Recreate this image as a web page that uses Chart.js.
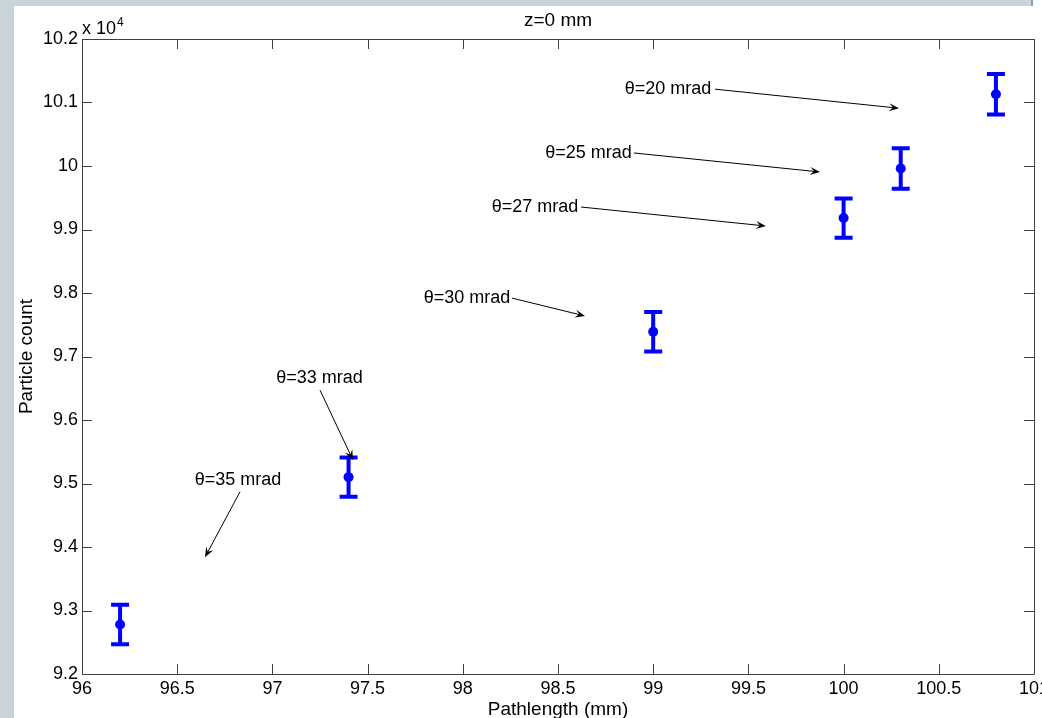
<!DOCTYPE html>
<html>
<head>
<meta charset="utf-8">
<script src="https://cdn.jsdelivr.net/npm/chart.js@4"></script>
<style>
  html, body { margin: 0; padding: 0; background: #ffffff; }
  canvas { display: block; }
</style>
</head>
<body>
<canvas id="c" width="1042" height="718"></canvas>
<script>
// ---- data ----
const pathlength = [96.2, 97.4, 99.0, 100.0, 100.3, 100.8];           // mm
const particleCount = [92780, 95100, 97390, 99180, 99960, 101130];    // counts
const countError = [310, 310, 310, 310, 320, 320];                    // +/- counts

const xTickStep = 0.5;
const yTickStep = 1000;

const annLabels = ['θ=20 mrad', 'θ=25 mrad', 'θ=27 mrad', 'θ=30 mrad', 'θ=33 mrad', 'θ=35 mrad'];
const annTextX = [99.078, 98.660, 98.379, 98.022, 97.247, 96.819];
const annTextY = [101210, 100205, 99350, 97920, 96660, 95055];
const annTailX = [99.325, 98.899, 98.621, 98.258, 97.250, 96.830];
const annTailY = [101210, 100205, 99354, 97920, 96470, 94870];
const annTipX  = [100.291, 99.876, 99.592, 98.642, 97.423, 96.646];
const annTipY  = [100910, 99906, 99055, 97638, 95370, 93840];

const titleText = 'z=0 mm';
const xTitle = 'Pathlength (mm)';
const yTitle = 'Particle count';

const FONT = '"Liberation Sans", Arial, Helvetica, sans-serif';

const framePlugin = {
  id: 'frame',
  beforeDraw(chart) {
    const ctx = chart.ctx;
    ctx.save();
    ctx.fillStyle = '#c9d3da';
    ctx.fillRect(0, 0, chart.width, chart.height);
    ctx.fillStyle = '#ffffff';
    ctx.fillRect(14, 6, 1018, chart.height - 6);
    ctx.fillRect(1032, 0, chart.width - 1032, chart.height);
    ctx.fillStyle = '#8f9aa1';
    ctx.fillRect(1031, 0, 2, 6);
    ctx.restore();
  },
  beforeDatasetsDraw(chart) {
    const ctx = chart.ctx;
    const xs = chart.scales.x, ys = chart.scales.y;
    ctx.save();
    ctx.strokeStyle = '#0000ff';
    ctx.lineWidth = 4;
    ctx.lineCap = 'butt';
    for (let i = 0; i < pathlength.length; i++) {
      const px = xs.getPixelForValue(pathlength[i]);
      const pTop = ys.getPixelForValue(particleCount[i] + countError[i]);
      const pBot = ys.getPixelForValue(particleCount[i] - countError[i]);
      ctx.beginPath();
      ctx.moveTo(px, pTop); ctx.lineTo(px, pBot);
      ctx.moveTo(px - 9, pTop); ctx.lineTo(px + 9, pTop);
      ctx.moveTo(px - 9, pBot); ctx.lineTo(px + 9, pBot);
      ctx.stroke();
    }
    ctx.restore();
  },
  afterDraw(chart) {
    const ctx = chart.ctx;
    const a = chart.chartArea;
    const xs = chart.scales.x, ys = chart.scales.y;
    ctx.save();
    // axes box
    ctx.strokeStyle = '#404040';
    ctx.lineWidth = 1;
    ctx.beginPath();
    ctx.rect(Math.round(a.left) + 0.5, Math.round(a.top) + 0.5,
             Math.round(a.right - a.left), Math.round(a.bottom - a.top));
    ctx.stroke();
    // inward ticks on all sides
    ctx.beginPath();
    xs.ticks.forEach(t => {
      const p = Math.round(xs.getPixelForValue(t.value)) + 0.5;
      ctx.moveTo(p, a.bottom); ctx.lineTo(p, a.bottom - 10);
      ctx.moveTo(p, a.top); ctx.lineTo(p, a.top + 10);
    });
    ys.ticks.forEach(t => {
      const p = Math.round(ys.getPixelForValue(t.value)) + 0.5;
      ctx.moveTo(a.left, p); ctx.lineTo(a.left + 10, p);
      ctx.moveTo(a.right, p); ctx.lineTo(a.right - 10, p);
    });
    ctx.stroke();

    // annotations (text arrows)
    ctx.fillStyle = '#000000';
    ctx.strokeStyle = '#000000';
    ctx.font = '18px ' + FONT;
    ctx.textAlign = 'center';
    ctx.textBaseline = 'middle';
    for (let i = 0; i < annLabels.length; i++) {
      const tx = xs.getPixelForValue(annTextX[i]);
      const ty = ys.getPixelForValue(annTextY[i]);
      ctx.fillText(annLabels[i], tx, ty);
      const x0 = xs.getPixelForValue(annTailX[i]);
      const y0 = ys.getPixelForValue(annTailY[i]);
      const x1 = xs.getPixelForValue(annTipX[i]);
      const y1 = ys.getPixelForValue(annTipY[i]);
      const ang = Math.atan2(y1 - y0, x1 - x0);
      ctx.lineWidth = 1;
      ctx.beginPath();
      ctx.moveTo(x0, y0);
      ctx.lineTo(x1 - 6 * Math.cos(ang), y1 - 6 * Math.sin(ang));
      ctx.stroke();
      // notched arrow head
      const L = 10, W = 4;
      const bx = x1 - L * Math.cos(ang), by = y1 - L * Math.sin(ang);
      const nx = -Math.sin(ang), ny = Math.cos(ang);
      const notchX = x1 - 0.6 * L * Math.cos(ang), notchY = y1 - 0.6 * L * Math.sin(ang);
      ctx.beginPath();
      ctx.moveTo(x1, y1);
      ctx.lineTo(bx + nx * W, by + ny * W);
      ctx.lineTo(notchX, notchY);
      ctx.lineTo(bx - nx * W, by - ny * W);
      ctx.closePath();
      ctx.fill();
    }

    // title
    const cx = (a.left + a.right) / 2;
    ctx.font = '19px ' + FONT;
    ctx.textAlign = 'center';
    ctx.textBaseline = 'alphabetic';
    ctx.fillText(titleText, cx, 26);
    // x axis title
    ctx.fillText(xTitle, cx, 715);
    // y axis title
    ctx.save();
    ctx.translate(32, (a.top + a.bottom) / 2);
    ctx.rotate(-Math.PI / 2);
    ctx.fillText(yTitle, 0, 0);
    ctx.restore();
    // exponent label
    ctx.textAlign = 'left';
    ctx.font = '18px ' + FONT;
    ctx.fillText('x 10', a.left, 34);
    const w = ctx.measureText('x 10').width;
    ctx.font = '12px ' + FONT;
    ctx.fillText('4', a.left + w + 1, 26);
    ctx.restore();
  }
};

function fmt(v) { return String(parseFloat(v.toFixed(3))); }

new Chart(document.getElementById('c'), {
  type: 'scatter',
  data: {
    datasets: [{
      data: pathlength.map((x, i) => ({ x: x, y: particleCount[i] })),
      pointRadius: 5,
      pointHoverRadius: 5,
      pointBackgroundColor: '#0000ff',
      pointBorderColor: '#0000ff',
      pointBorderWidth: 0,
      showLine: false
    }]
  },
  options: {
    responsive: false,
    devicePixelRatio: 1,
    animation: false,
    events: [],
    layout: { padding: { left: 0, top: 39, right: 8, bottom: 0 } },
    plugins: { legend: { display: false }, tooltip: { enabled: false }, title: { display: false } },
    scales: {
      x: {
        type: 'linear', min: 96, max: 101,
        grid: { display: false, drawTicks: false },
        border: { display: false },
        ticks: {
          stepSize: xTickStep, autoSkip: false, maxRotation: 0, padding: 4,
          color: '#000000', font: { family: FONT, size: 18 },
          callback: v => fmt(v)
        },
        afterFit: s => { s.height = 44; s.paddingLeft = 0; s.paddingRight = 0; }
      },
      y: {
        type: 'linear', min: 92000, max: 102000,
        grid: { display: false, drawTicks: false },
        border: { display: false },
        ticks: {
          stepSize: yTickStep, autoSkip: false, padding: 4,
          color: '#000000', font: { family: FONT, size: 18 },
          callback: v => fmt(v / 10000)
        },
        afterFit: s => { s.width = 82; s.paddingTop = 0; s.paddingBottom = 0; }
      }
    }
  },
  plugins: [framePlugin]
});
</script>
</body>
</html>
